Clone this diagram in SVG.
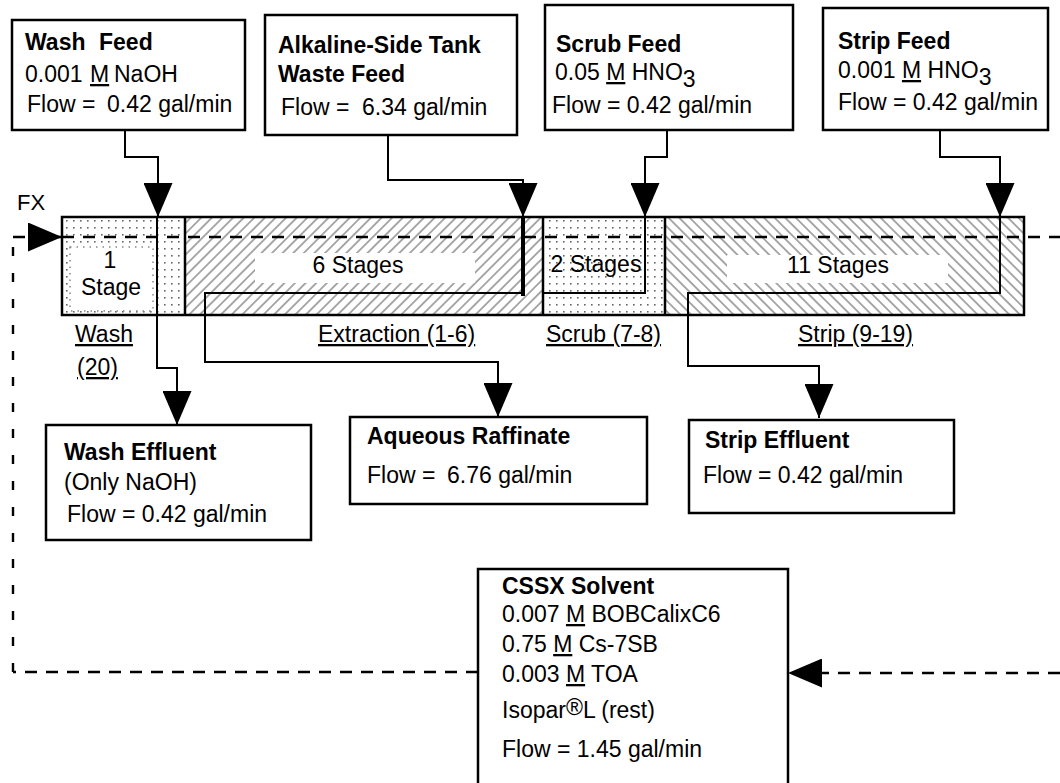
<svg xmlns="http://www.w3.org/2000/svg" width="1060" height="783" viewBox="0 0 1060 783">
<style>
.box{fill:#fff;stroke:#000;stroke-width:2.5}
.t{font-family:"Liberation Sans",Arial,sans-serif;font-size:23px;fill:#000}
.b{font-weight:bold}
.u{text-decoration:underline}
.ln{fill:none;stroke:#000;stroke-width:2}
.dash{fill:none;stroke:#000;stroke-width:2.4;stroke-dasharray:12 9}
.vdash{fill:none;stroke:#000;stroke-width:2.4;stroke-dasharray:9 17}
.edge{fill:none;stroke:#000;stroke-width:2.5}
</style>
<defs>
<pattern id="dots" width="7" height="7" patternUnits="userSpaceOnUse"><rect width="7" height="7" fill="#fff"/><rect x="3" y="3" width="1.6" height="1.6" fill="#666"/></pattern>
<pattern id="hatchR" width="7.5" height="7.5" patternUnits="userSpaceOnUse" patternTransform="rotate(45)"><rect width="7.5" height="7.5" fill="#fff"/><line x1="3.75" y1="0" x2="3.75" y2="7.5" stroke="#555" stroke-width="1"/></pattern>
<pattern id="hatchL" width="7.5" height="7.5" patternUnits="userSpaceOnUse" patternTransform="rotate(-45)"><rect width="7.5" height="7.5" fill="#fff"/><line x1="3.75" y1="0" x2="3.75" y2="7.5" stroke="#555" stroke-width="1"/></pattern>
<marker id="ah" viewBox="0 0 34 29" refX="34" refY="14.5" markerWidth="34" markerHeight="29" orient="auto" markerUnits="userSpaceOnUse"><path d="M0,0 L34,14.5 L0,29 Z" fill="#000" stroke="none"/></marker>
</defs>
<rect width="1060" height="783" fill="#fff"/>

<g id="cascade">
<rect x="62" y="217" width="123" height="98" fill="url(#dots)"/>
<rect x="185" y="217" width="358" height="98" fill="url(#hatchR)"/>
<rect x="543" y="217" width="122" height="98" fill="url(#dots)"/>
<rect x="665" y="217" width="359" height="98" fill="url(#hatchL)"/>
<rect x="70" y="247" width="83" height="64" fill="#fff" stroke="#888" stroke-width="1.5" stroke-dasharray="1.5 5"/>
<rect x="255" y="253" width="220" height="30" fill="#fff"/>
<rect x="727" y="255" width="221" height="28" fill="#fff"/>
<rect x="62" y="217" width="962" height="98" class="edge"/>
<line x1="185" y1="217" x2="185" y2="315" class="edge"/>
<line x1="543" y1="217" x2="543" y2="315" class="edge"/>
<line x1="665" y1="217" x2="665" y2="315" class="edge"/>
<text class="t" x="110" y="268" text-anchor="middle">1</text>
<text class="t" x="111" y="295" text-anchor="middle">Stage</text>
<text class="t" x="358" y="273" text-anchor="middle">6 Stages</text>
<text class="t" x="596" y="272" text-anchor="middle">2 Stages</text>
<text class="t" x="838" y="273" text-anchor="middle">11 Stages</text>
<text class="t" x="17" y="210" style="font-size:22px">FX</text>
<text class="t u" x="75" y="342">Wash</text>
<text class="t u" x="77" y="375">(20)</text>
<text class="t u" x="318" y="342">Extraction (1-6)</text>
<text class="t u" x="546" y="342">Scrub (7-8)</text>
<text class="t u" x="798" y="342">Strip (9-19)</text>
</g>

<g id="connectors">
<path class="ln" d="M125,130 V157 H158 V217" marker-end="url(#ah)"/>
<path class="ln" d="M388,135 V180 H523 V217" marker-end="url(#ah)"/>
<line x1="523" y1="217" x2="523" y2="296" stroke="#000" stroke-width="4"/>
<path class="ln" d="M523,293 H205 V362 H498 V417" marker-end="url(#ah)"/>
<path class="ln" d="M667,130 V157 H645 V217" marker-end="url(#ah)"/>
<path class="ln" d="M645,217 V293 H543"/>
<path class="ln" d="M940,130 V157 H1000 V217" marker-end="url(#ah)"/>
<path class="ln" d="M1000,217 V293 H688 V366 H819 V418" marker-end="url(#ah)"/>
<path class="ln" d="M157,217 V368 H177 V425" marker-end="url(#ah)"/>
<path class="dash" d="M478,672 H13"/>
<path class="vdash" d="M13,672 V237"/>
<path class="dash" d="M13,237 H62" marker-end="url(#ah)"/>
<path class="dash" d="M62,237 H1060"/>
<path class="dash" d="M1060,673 H788" marker-end="url(#ah)"/>
</g>

<g id="wash-feed">
<rect class="box" x="12" y="20" width="233" height="110"/>
<text class="t b" x="25" y="50">Wash</text>
<text class="t b" x="99" y="50">Feed</text>
<text class="t" x="25" y="82">0.001 </text>
<text class="t u" x="90" y="82">M</text>
<text class="t" x="114" y="82">NaOH</text>
<text class="t" x="27" y="112">Flow =</text>
<text class="t" x="107" y="112">0.42 gal/min</text>
</g>

<g id="alkaline-feed">
<rect class="box" x="265" y="15" width="252" height="120"/>
<text class="t b" x="278" y="53">Alkaline-Side Tank</text>
<text class="t b" x="278" y="82">Waste Feed</text>
<text class="t" x="281" y="115">Flow =</text>
<text class="t" x="362" y="115">6.34 gal/min</text>
</g>

<g id="scrub-feed">
<rect class="box" x="545" y="5" width="248" height="125"/>
<text class="t b" x="556" y="52">Scrub Feed</text>
<text class="t" x="555" y="80">0.05 <tspan class="u">M</tspan> HNO<tspan dy="7">3</tspan></text>
<text class="t" x="552" y="113">Flow = 0.42 gal/min</text>
</g>

<g id="strip-feed">
<rect class="box" x="823" y="8" width="225" height="122"/>
<text class="t b" x="838" y="49">Strip Feed</text>
<text class="t" x="838" y="78">0.001 <tspan class="u">M</tspan> HNO<tspan dy="7">3</tspan></text>
<text class="t" x="838" y="110">Flow = 0.42 gal/min</text>
</g>

<g id="wash-effluent">
<rect class="box" x="46" y="425" width="265" height="115"/>
<text class="t b" x="64" y="460">Wash Effluent</text>
<text class="t" x="64" y="490">(Only NaOH)</text>
<text class="t" x="67" y="522">Flow = 0.42 gal/min</text>
</g>

<g id="aqueous-raffinate">
<rect class="box" x="350" y="417" width="297" height="87"/>
<text class="t b" x="367" y="444">Aqueous Raffinate</text>
<text class="t" x="367" y="483">Flow =</text>
<text class="t" x="447" y="483">6.76 gal/min</text>
</g>

<g id="strip-effluent">
<rect class="box" x="689" y="420" width="265" height="93"/>
<text class="t b" x="705" y="448">Strip Effluent</text>
<text class="t" x="703" y="483">Flow = 0.42 gal/min</text>
</g>

<g id="cssx-solvent">
<rect class="box" x="478" y="569" width="310" height="240"/>
<text class="t b" x="502" y="594">CSSX Solvent</text>
<text class="t" x="502" y="622">0.007 <tspan class="u">M</tspan> BOBCalixC6</text>
<text class="t" x="502" y="652">0.75 <tspan class="u">M</tspan> Cs-7SB</text>
<text class="t" x="502" y="682">0.003 <tspan class="u">M</tspan> TOA</text>
<text class="t" x="502" y="718">Isopar<tspan dy="-3">®</tspan><tspan dy="3">L (rest)</tspan></text>
<text class="t" x="502" y="757">Flow = 1.45 gal/min</text>
</g>
</svg>
